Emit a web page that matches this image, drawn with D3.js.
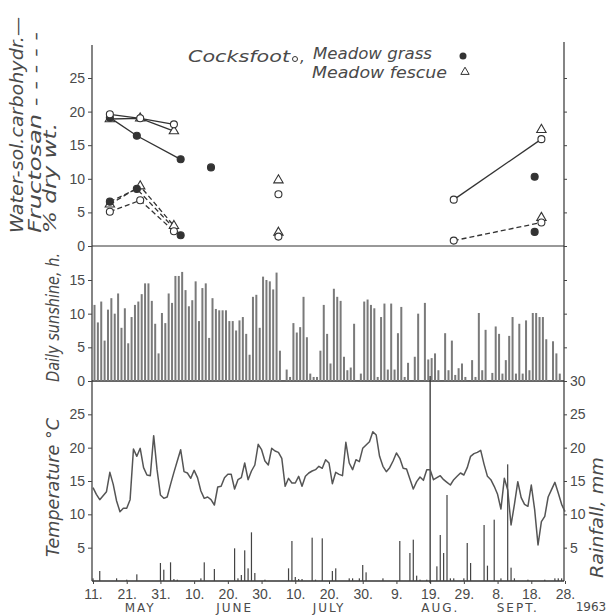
<!DOCTYPE html>
<html>
<head>
<meta charset="utf-8">
<script src="https://cdnjs.cloudflare.com/ajax/libs/d3/7.8.5/d3.min.js"></script>
<style>
body { margin: 0; background: #fff; }
svg { font-family: "DejaVu Sans", sans-serif; }
.axis line { stroke: #444; }
.axis text { fill: #4a4a4a; font-size: 14px; }
.title { fill: #4a4a4a; font-style: italic; font-size: 17px; }
.legend { fill: #4a4a4a; font-style: italic; font-size: 15px; }
</style>
</head>
<body>
<div id="chart"></div>
<script>
// dates: days counted from 11 May 1963
var startDay = "1963-05-11";
var endDay = "1963-09-28";

var xTickDates = ["1963-05-11","1963-05-21","1963-05-31","1963-06-10","1963-06-20","1963-06-30",
                  "1963-07-10","1963-07-20","1963-07-30","1963-08-09","1963-08-19","1963-08-29",
                  "1963-09-08","1963-09-18","1963-09-28"];
var xTickLabels = ["11.","21.","31.","10.","20.","30.","10.","20.","30.","9.","19.","29.","8.","18.","28."];
var monthLabels = ["MAY","JUNE","JULY","AUG.","SEPT."];
var monthDates = ["1963-05-25","1963-06-22","1963-07-20","1963-08-22","1963-09-14"];

// carbohydrate (solid) and fructosan (dashed), % dry wt.
var cfDates = ["1963-05-16","1963-05-25","1963-06-04","1963-07-05","1963-08-26","1963-09-21"];
var cfCarb  = [19.6, 19.0, 18.1, 7.7, 6.9, 15.9];
var cfFruc  = [5.1, 6.8, 2.2, 1.4, 0.8, 3.5];
var cfRun   = [1, 1, 1, 2, 3, 3];

var mgDates = ["1963-05-16","1963-05-24","1963-06-06","1963-06-15","1963-09-19"];
var mgCarb  = [19.1, 16.4, 12.9, 11.7, 10.3];
var mgFruc  = [6.6, 8.5, 1.6, null, 2.1];
var mgRun   = [1, 1, 1, 2, 3];

var mfDates = ["1963-05-16","1963-05-25","1963-06-04","1963-07-05","1963-09-21"];
var mfCarb  = [18.9, 19.0, 17.1, 9.8, 17.3];
var mfFruc  = [6.2, 8.9, 3.0, 2.0, 4.2];
var mfRun   = [1, 1, 1, 2, 3];

// daily sunshine, h (11 May onwards)
var sunshine = [11.3, 8.7, 11.8, 6.0, 10.6, 12.3, 10.0, 13.0, 7.9, 10.8, 5.6, 9.5, 11.3, 11.8, 12.9, 14.5,
  14.5, 11.9, 8.5, 4.1, 10.1, 8.6, 13.0, 11.6, 15.6, 15.6, 16.2, 13.5, 11.1, 12.0, 14.8, 8.9, 13.8, 14.5,
  6.4, 12.3, 10.7, 10.5, 10.5, 10.5, 8.9, 8.9, 7.5, 9.0, 9.5, 7.0, 3.9,
  12.5, 12.8, 7.9, 15.5, 15.0, 14.8, 13.6, 16.1, 4.5, 0, 1.7, 0.6, 8.6, 7.2, 8.0, 12.5, 6.5, 1.1, 0.6,
  0.6, 4.5, 11.3, 7.0, 2.6, 13.7, 12.5, 11.9, 3.6, 1.6, 2.0, 8.5, 0, 1.1, 11.8, 12.1, 11.3, 10.8, 0.6,
  9.5, 11.5, 1.7, 11.5, 1.7, 7.1, 11.0,
  0.6, 2.7, 0, 3.6, 10.0, 0, 11.6, 3.2, 3.4, 4.1, 1.6, 0, 7.1, 1.6, 6.0, 0.9, 1.9, 2.6, 0.6, 0, 3.1,
  0.6, 10.1, 1.6, 7.6, 0, 1.2, 8.1, 7.0, 1.1, 3.1, 6.7, 9.5, 1.1, 8.5, 1.1, 9.0, 1.6, 10.1, 10.1, 9.5,
  9.5, 6.2, 0, 5.9, 4.1, 1.1, 0];

// mean daily temperature, deg C
var temperature = [14.0, 13.0, 12.2, 12.8, 13.4, 16.3, 14.5, 12.0, 10.4, 10.9,
  10.9, 12.2, 19.8, 18.7, 19.9, 17.0, 15.9, 15.8, 21.8, 16.7,
  12.9, 12.4, 12.6, 14.5, 16.3, 18.0, 19.7, 16.4, 16.2, 15.4,
  16.6, 15.5, 13.5, 12.4, 12.6, 12.2, 11.4, 14.1, 14.2, 15.5,
  16.0, 16.0, 13.8, 15.2, 15.5, 17.7, 15.2, 16.5, 17.4, 20.5,
  19.7, 18.0, 17.4, 19.9, 19.5, 19.3, 18.4, 14.2, 15.4, 14.7,
  14.7, 15.7, 14.2, 15.7, 16.2, 16.5, 16.7, 17.2, 16.9, 18.2,
  17.7, 14.6, 16.3, 16.0, 15.8, 20.8, 17.7, 16.7, 18.2, 17.9,
  19.9, 20.4, 20.9, 22.4, 21.9, 18.7, 17.2, 16.4, 17.0, 18.0,
  19.2, 18.4, 16.9, 16.8, 15.3, 13.8, 14.9, 15.6, 15.1, 16.7,
  16.7, 15.2, 15.5, 15.8, 15.2, 14.8, 14.4, 15.2, 15.7, 16.2,
  15.9, 17.0, 18.7, 19.1, 19.3, 19.6, 17.5, 15.7, 15.2, 14.2,
  13.0, 10.8, 15.4, 13.7, 8.4, 11.5, 14.9, 12.5, 11.5, 11.2,
  14.4, 10.7, 5.4, 8.9, 9.7, 12.6, 13.7, 14.8, 13.2, 11.5, 10.4];

// rainfall, mm (only days with rain)
var rainDays = [0, 2, 7, 10, 13, 20, 21, 23, 24, 25, 32, 33, 36, 42, 43, 44, 45, 46, 47, 48, 51, 58, 59, 60,
  61, 62, 65, 66, 68, 71, 72, 76, 77, 79, 80, 81, 86, 91, 94, 95, 96, 97, 99, 102, 103, 104, 105, 106, 107,
  110, 111, 112, 116, 117, 119, 121, 123, 124, 125, 129, 134, 137, 138, 139];
var rainMm = [0.4, 1.5, 0.4, 0.2, 1.0, 2.7, 1.7, 2.8, 0.3, 0.2, 0.4, 2.8, 1.8, 4.9, 0.4, 0.9, 4.6, 1.9, 7.3, 1.2,
  0.2, 1.9, 6.0, 0.6, 0.3, 0.3, 6.5, 0.2, 6.4, 1.5, 1.9, 0.4, 0.4, 0.4, 2.4, 1.3, 0.4, 6.0, 4.2, 6.2, 0.8,
  0.2, 0.2, 2.2, 6.9, 4.2, 12.9, 0.4, 0.4, 0.4, 5.7, 2.7, 8.4, 2.3, 9.2, 0.4, 17.5, 2.0, 0.4, 0.2, 0.2, 0.4,
  0.4, 0.4];

var width = 609, height = 616;
var left = 92, right = 564;
var ink = "#333";

var parse = d3.timeParse("%Y-%m-%d");
var start = parse(startDay);
function dayDate(i) { return d3.timeDay.offset(start, i); }

var svg = d3.select("#chart").append("svg")
    .attr("width", width)
    .attr("height", height);

var x = d3.scaleTime()
    .domain([start, parse(endDay)])
    .range([93, 565]);

var yC = d3.scaleLinear().domain([0, 25]).range([246, 78]);
var yS = d3.scaleLinear().domain([0, 15]).range([381, 280]);
var yT = d3.scaleLinear().domain([0, 30]).range([581, 381]);

// frame
svg.append("line").attr("x1", left).attr("x2", left).attr("y1", 45).attr("y2", 581)
    .attr("stroke", ink).attr("stroke-width", 1.2);
svg.append("line").attr("x1", right).attr("x2", right).attr("y1", 42).attr("y2", 581)
    .attr("stroke", ink).attr("stroke-width", 1.2);
[246, 381, 581].forEach(function(yy) {
  svg.append("line").attr("x1", left).attr("x2", right).attr("y1", yy).attr("y2", yy)
      .attr("stroke", ink).attr("stroke-width", yy == 246 ? 1 : 1.3);
});

// axes
function leftAxis(scale, vals) {
  svg.append("g").attr("class", "axis")
      .attr("transform", "translate(" + left + ",0)")
      .call(d3.axisLeft(scale).tickValues(vals).tickSize(4).tickPadding(3))
      .select(".domain").remove();
}
function rightTicks(scale, vals, labels) {
  var g = svg.append("g").attr("class", "axis")
      .attr("transform", "translate(" + right + ",0)")
      .call(d3.axisRight(scale).tickValues(vals).tickSize(3).tickPadding(3)
        .tickFormat(labels ? null : ""));
  g.select(".domain").remove();
}
leftAxis(yC, [0, 5, 10, 15, 20, 25]);
leftAxis(yS, [0, 5, 10, 15]);
leftAxis(yT, [5, 10, 15, 20, 25]);
rightTicks(yC, [0, 5, 10, 15, 20, 25], false);
rightTicks(yS, [5, 10, 15], false);
rightTicks(yT, [5, 10, 15, 20, 25, 30], true);

svg.append("g").attr("class", "axis")
    .attr("transform", "translate(0,581)")
    .call(d3.axisBottom(x)
      .tickValues(xTickDates.map(parse))
      .tickFormat(function(d, i) { return xTickLabels[i]; })
      .tickSize(3).tickPadding(5))
    .select(".domain").remove();

svg.selectAll(".month")
    .data(monthLabels)
    .enter().append("text")
    .attr("class", "month")
    .attr("x", function(d, i) { return x(parse(monthDates[i])); })
    .attr("y", 612)
    .attr("text-anchor", "middle")
    .style("font-size", "12px")
    .style("letter-spacing", "2px")
    .style("fill", "#4a4a4a")
    .text(function(d) { return d; });

svg.append("text").attr("x", 591).attr("y", 611).attr("text-anchor", "middle")
    .style("font-size", "12px").style("fill", "#4a4a4a").text("1963");

// axis titles (rotated)
function vTitle(txt, xb, yStart, len) {
  svg.append("text").attr("class", "title")
      .attr("transform", "translate(" + xb + "," + yStart + ") rotate(-90)")
      .attr("textLength", len)
      .attr("lengthAdjust", "spacingAndGlyphs")
      .text(txt);
}
vTitle("Water-sol.carbohydr.\u2014", 23, 233, 216);
vTitle("Fructosan - - - - -", 41, 233, 201);
vTitle("% dry wt.", 56, 233, 110);
vTitle("Daily sunshine, h.", 59, 382, 129);
vTitle("Temperature \u00b0C", 59, 557, 139);
vTitle("Rainfall, mm", 603, 578, 121);

// sunshine bars
svg.append("g").selectAll("rect")
    .data(sunshine)
    .enter().append("rect")
    .attr("x", function(d, i) { return x(dayDate(i)) + 0.5; })
    .attr("y", function(d) { return yS(d); })
    .attr("width", 2)
    .attr("height", function(d) { return yS(0) - yS(d); })
    .attr("fill", "#7a7a7a");

// rainfall bars
svg.append("g").selectAll("rect")
    .data(rainDays)
    .enter().append("rect")
    .attr("x", function(d) { return x(dayDate(d)) - 0.6; })
    .attr("y", function(d, i) { return yT(rainMm[i]); })
    .attr("width", 1.2)
    .attr("height", function(d, i) { return yT(0) - yT(rainMm[i]); })
    .attr("fill", "#444");

// 19 Aug marker
svg.append("line")
    .attr("x1", x(parse("1963-08-19"))).attr("x2", x(parse("1963-08-19")))
    .attr("y1", 376).attr("y2", 583)
    .attr("stroke", ink).attr("stroke-width", 1.3);

// temperature
var tLine = d3.line()
    .x(function(d, i) { return x(dayDate(i)); })
    .y(function(d) { return yT(d); });
svg.append("path")
    .datum(temperature)
    .attr("d", tLine)
    .attr("fill", "none")
    .attr("stroke", "#555")
    .attr("stroke-width", 1.5)
    .attr("stroke-linejoin", "round");

// carbohydrate panel
function series(dates, vals, runs) {
  return dates.map(function(d, i) { return { date: parse(d), v: vals[i], run: runs[i] }; })
    .filter(function(p) { return p.v != null; });
}
var cLine = d3.line()
    .x(function(d) { return x(d.date); })
    .y(function(d) { return yC(d.v); });

function drawLines(pts, dash) {
  d3.groups(pts, function(p) { return p.run; }).forEach(function(g) {
    if (g[1].length < 2) return;
    svg.append("path")
        .datum(g[1])
        .attr("d", cLine)
        .attr("fill", "none")
        .attr("stroke", ink)
        .attr("stroke-width", 1.3)
        .attr("stroke-dasharray", dash ? "5,3" : null);
  });
}

var sets = [
  { dates: mfDates, carb: mfCarb, fruc: mfFruc, run: mfRun, mark: "tri" },
  { dates: mgDates, carb: mgCarb, fruc: mgFruc, run: mgRun, mark: "dot" },
  { dates: cfDates, carb: cfCarb, fruc: cfFruc, run: cfRun, mark: "circle" }
];

sets.forEach(function(s) {
  drawLines(series(s.dates, s.carb, s.run), false);
  drawLines(series(s.dates, s.fruc, s.run), true);
});

function drawMarks(pts, mark) {
  var g = svg.append("g");
  if (mark == "tri") {
    g.selectAll("path").data(pts).enter().append("path")
        .attr("transform", function(d) { return "translate(" + x(d.date) + "," + yC(d.v) + ")"; })
        .attr("d", d3.symbol().type(d3.symbolTriangle).size(38))
        .attr("fill", "#fff").attr("stroke", ink).attr("stroke-width", 1.1);
  } else {
    g.selectAll("circle").data(pts).enter().append("circle")
        .attr("cx", function(d) { return x(d.date); })
        .attr("cy", function(d) { return yC(d.v); })
        .attr("r", 3.5)
        .attr("fill", mark == "dot" ? ink : "#fff")
        .attr("stroke", ink).attr("stroke-width", 1.1);
  }
}
sets.forEach(function(s) {
  drawMarks(series(s.dates, s.carb, s.run), s.mark);
  drawMarks(series(s.dates, s.fruc, s.run), s.mark);
});

// legend
var lg = svg.append("g").attr("class", "legend");
lg.append("text").attr("x", 188).attr("y", 62).attr("textLength", 102)
    .attr("lengthAdjust", "spacingAndGlyphs").text("Cocksfoot");
lg.append("circle").attr("cx", 295).attr("cy", 59).attr("r", 2.5)
    .attr("fill", "#fff").attr("stroke", ink).attr("stroke-width", 1);
lg.append("text").attr("x", 300).attr("y", 62).text(",");
lg.append("text").attr("x", 313).attr("y", 59).attr("textLength", 119)
    .attr("lengthAdjust", "spacingAndGlyphs").text("Meadow grass");
lg.append("circle").attr("cx", 463).attr("cy", 56).attr("r", 3.5).attr("fill", ink);
lg.append("text").attr("x", 312).attr("y", 78).attr("textLength", 135)
    .attr("lengthAdjust", "spacingAndGlyphs").text("Meadow fescue");
lg.append("path").attr("transform", "translate(465,72)")
    .attr("d", d3.symbol().type(d3.symbolTriangle).size(30))
    .attr("fill", "#fff").attr("stroke", ink).attr("stroke-width", 1);
</script>
</body>
</html>
